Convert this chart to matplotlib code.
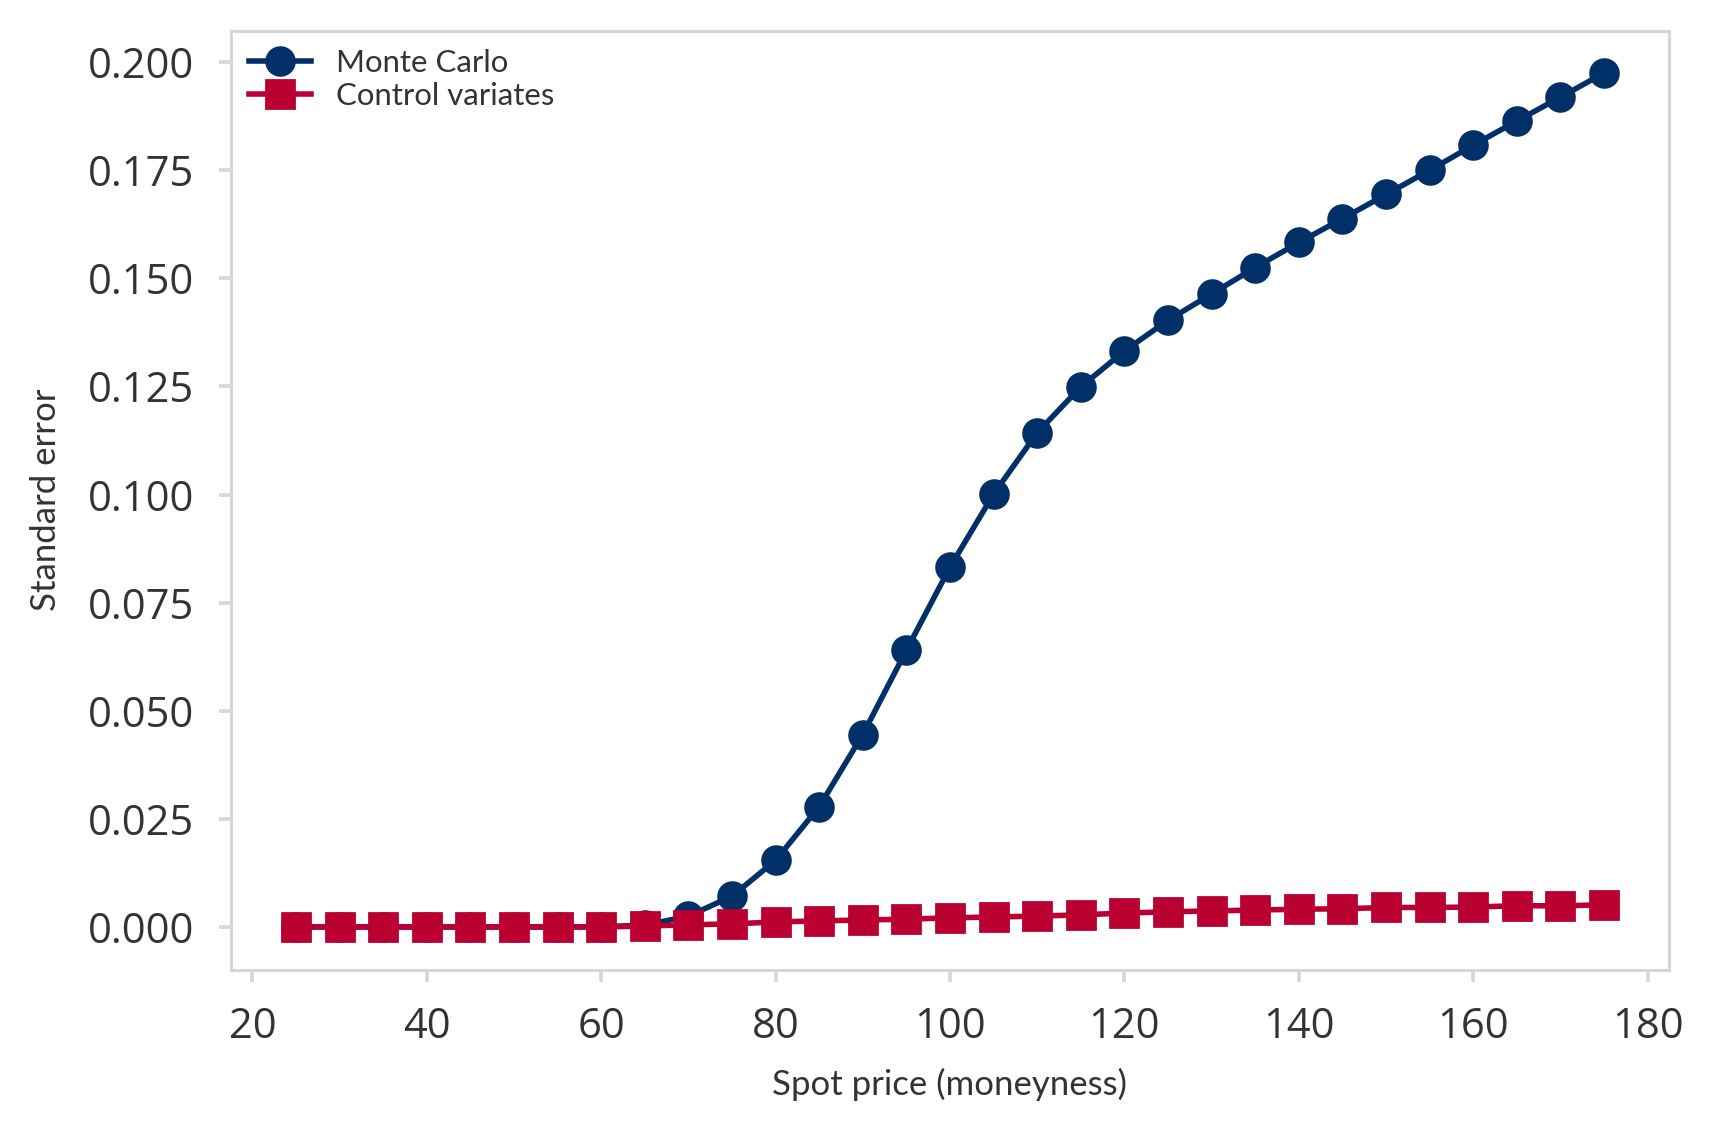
import matplotlib
matplotlib.use("Agg")
import matplotlib.pyplot as plt

spot = [25, 30, 35, 40, 45, 50, 55, 60, 65, 70, 75, 80, 85, 90, 95, 100, 105, 110,
        115, 120, 125, 130, 135, 140, 145, 150, 155, 160, 165, 170, 175]
monte_carlo = [0.0, 0.0, 0.0, 0.0, 0.0, 0.0, 0.0, 0.00005, 0.0004, 0.0025, 0.0071,
               0.0154, 0.0278, 0.0445, 0.0640, 0.0832, 0.1001, 0.1143, 0.1249,
               0.1332, 0.1403, 0.1464, 0.1525, 0.1583, 0.1638, 0.1694, 0.1750,
               0.1808, 0.1864, 0.1919, 0.1975]
control_variates = [0.0, 0.0, 0.0, 0.0, 0.0, 0.0, 0.0, 0.0, 0.0002, 0.0005, 0.0007,
                    0.00115, 0.0014, 0.0016, 0.0018, 0.0021, 0.0023, 0.0025, 0.0028,
                    0.0032, 0.0035, 0.0037, 0.0039, 0.0041, 0.0042, 0.0045, 0.0045,
                    0.0046, 0.0049, 0.0049, 0.0051]
x_ticks = [20, 40, 60, 80, 100, 120, 140, 160, 180]
y_ticks = [0.0, 0.025, 0.05, 0.075, 0.1, 0.125, 0.15, 0.175, 0.2]
y_tick_labels = ['0.000', '0.025', '0.050', '0.075', '0.100', '0.125',
                 '0.150', '0.175', '0.200']

navy = "#003067"
red = "#BA0031"
text_col = "#333333"
grey = "#d6d6d6"

plt.rcParams['font.family'] = ['Open Sans', 'DejaVu Sans']

fig = plt.figure(figsize=(8.57, 5.67), dpi=200)
ax = fig.add_axes([0.1345, 0.145, 0.8395, 0.828])

ax.plot(spot, monte_carlo, color=navy, marker='o', markersize=10, linewidth=2.0,
        label='Monte Carlo', zorder=3)
ax.plot(spot, control_variates, color=red, marker='s', markersize=10, linewidth=2.0,
        label='Control variates', zorder=4)

ax.set_xticks(x_ticks)
ax.set_yticks(y_ticks)
ax.set_yticklabels(y_tick_labels)
ax.set_xlim(17.5, 182.5)
ax.set_ylim(-0.00986, 0.2073)

for s in ax.spines.values():
    s.set_color(grey)
    s.set_linewidth(1.1)

ax.tick_params(axis='both', colors=grey, labelcolor=text_col, labelsize=15,
               length=4.2, width=1.3, pad=9)

lab_font = dict(family=['Lato', 'DejaVu Sans'], size=12.5, color=text_col)
ax.set_xlabel('Spot price (moneyness)', fontdict=lab_font, labelpad=7)
ax.set_ylabel('Standard error', fontdict=lab_font, labelpad=9)

leg = ax.legend(loc='upper left', frameon=False, handlelength=2.0,
                prop={'family': ['Lato', 'DejaVu Sans'], 'size': 11.2},
                borderaxespad=0.2, handletextpad=0.8, labelspacing=0.15)
for t in leg.get_texts():
    t.set_color(text_col)

fig.savefig('out.png', dpi=200)
